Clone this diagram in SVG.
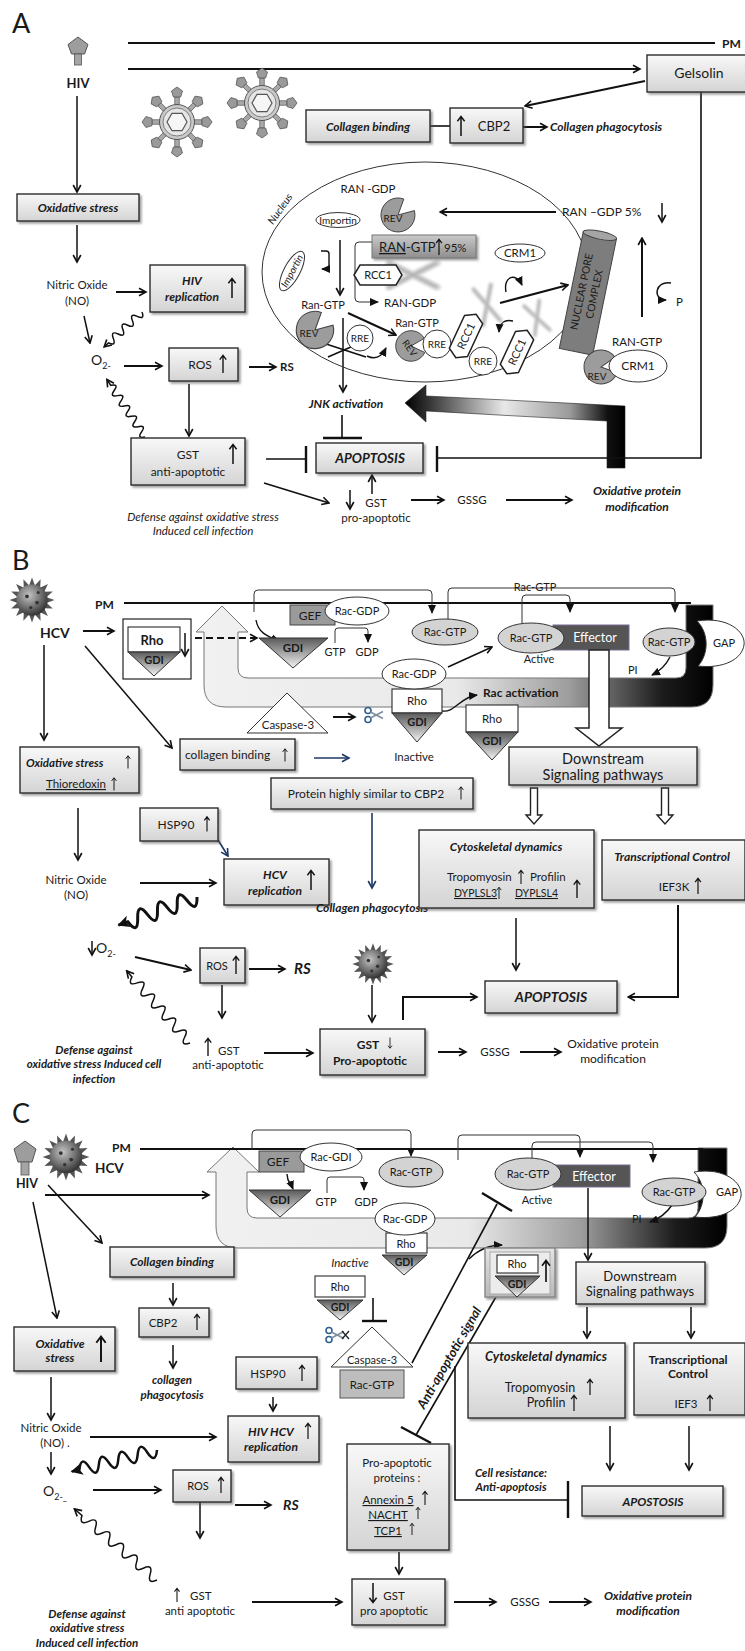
<svg xmlns="http://www.w3.org/2000/svg" width="745" height="1651" viewBox="0 0 745 1651" font-size="12">
<defs>
<style>
text{font-family:Lato,'Liberation Sans',sans-serif;fill:#1a1a1a}
.m{text-anchor:middle}
.b{font-weight:bold}
.i{font-style:italic}
.bi{font-weight:bold;font-style:italic}
.u{text-decoration:underline}
.wt{fill:#fff}
.box{fill:url(#bg);stroke:#2b2b2b;stroke-width:1.4;filter:url(#sh)}
.wb{fill:#fff;stroke:#2b2b2b;stroke-width:1.1}
.ln{fill:none;stroke:#111;stroke-width:1.6}
.ar{fill:none;stroke:#111;stroke-width:1.5;marker-end:url(#ah)}
.ar2{fill:none;stroke:#111;stroke-width:2;marker-end:url(#ah)}
.arf{fill:none;stroke:#111;stroke-width:1.4;marker-end:url(#af)}
.tb{fill:none;stroke:#111;stroke-width:2.4}
.br{fill:none;stroke:#333;stroke-width:1;marker-end:url(#af)}
.blue{fill:none;stroke:#1f3864;stroke-width:1.6;marker-end:url(#abl)}
.gtp{fill:#d3d3d3;stroke:#333;stroke-width:1}
.wel{fill:#fff;stroke:#333;stroke-width:1}
.gdi{fill:url(#gd);stroke:#333;stroke-width:1}
.rev{fill:#9c9c9c;stroke:#444;stroke-width:1}
.hx{fill:#fff;stroke:#222;stroke-width:1.5}
</style>
<filter id="sh" x="-10%" y="-10%" width="125%" height="140%"><feDropShadow dx="2" dy="2" stdDeviation="1" flood-color="#555" flood-opacity="0.55"/></filter>
<filter id="fz" x="-20%" y="-20%" width="140%" height="140%"><feGaussianBlur stdDeviation="0.8"/></filter>
<linearGradient id="bg" x1="0" y1="0" x2="0" y2="1"><stop offset="0" stop-color="#f8f8f8"/><stop offset="1" stop-color="#d4d4d4"/></linearGradient>
<linearGradient id="gd" x1="0" y1="0" x2="0" y2="1"><stop offset="0" stop-color="#5a5a5a"/><stop offset="0.5" stop-color="#a5a5a5"/><stop offset="1" stop-color="#f4f4f4"/></linearGradient>
<linearGradient id="rg" x1="0" y1="0" x2="0" y2="1"><stop offset="0" stop-color="#cacaca"/><stop offset="1" stop-color="#8e8e8e"/></linearGradient>
<linearGradient id="fr" x1="0" y1="0" x2="0" y2="1"><stop offset="0" stop-color="#e4e4e4"/><stop offset="1" stop-color="#b8b8b8"/></linearGradient>
<linearGradient id="jn" gradientUnits="userSpaceOnUse" x1="405" y1="0" x2="625" y2="0"><stop offset="0" stop-color="#000"/><stop offset="0.12" stop-color="#3a3a3a"/><stop offset="0.45" stop-color="#e8e8e8"/><stop offset="0.75" stop-color="#9a9a9a"/><stop offset="0.92" stop-color="#111"/><stop offset="1" stop-color="#000"/></linearGradient>
<linearGradient id="ub" gradientUnits="userSpaceOnUse" x1="200" y1="0" x2="713" y2="0"><stop offset="0" stop-color="#f1f1f1"/><stop offset="0.5" stop-color="#e9e9e9"/><stop offset="0.72" stop-color="#9d9d9d"/><stop offset="0.9" stop-color="#1c1c1c"/><stop offset="1" stop-color="#000"/></linearGradient>
<linearGradient id="uc" gradientUnits="userSpaceOnUse" x1="207" y1="0" x2="727" y2="0"><stop offset="0" stop-color="#f1f1f1"/><stop offset="0.5" stop-color="#e9e9e9"/><stop offset="0.72" stop-color="#9d9d9d"/><stop offset="0.9" stop-color="#1c1c1c"/><stop offset="1" stop-color="#000"/></linearGradient>
<radialGradient id="hg" cx="0.4" cy="0.35" r="0.7"><stop offset="0" stop-color="#c4c4c4"/><stop offset="0.6" stop-color="#6a6a6a"/><stop offset="1" stop-color="#2a2a2a"/></radialGradient>
<marker id="ah" markerWidth="10" markerHeight="10" refX="8.5" refY="5" orient="auto" markerUnits="userSpaceOnUse"><path d="M1.5,1.2 L8.5,5 L1.5,8.8" fill="none" stroke="#111" stroke-width="1.6"/></marker>
<marker id="af" markerWidth="9" markerHeight="9" refX="8" refY="4.5" orient="auto" markerUnits="userSpaceOnUse"><path d="M0,0.5 L9,4.5 L0,8.5 Z" fill="#111"/></marker>
<marker id="abl" markerWidth="10" markerHeight="10" refX="8.5" refY="5" orient="auto" markerUnits="userSpaceOnUse"><path d="M1.5,1.2 L8.5,5 L1.5,8.8" fill="none" stroke="#1f3864" stroke-width="1.6"/></marker>
<marker id="aw" markerWidth="14" markerHeight="14" refX="11" refY="7" orient="auto" markerUnits="userSpaceOnUse"><path d="M0,1 L12,7 L0,13 L3,7 Z" fill="#111"/></marker>
<g id="up"><path d="M0,10 V-9 M-3.6,-4.8 L0,-9.6 L3.6,-4.8" fill="none" stroke="#111" stroke-width="1.5"/></g>
<g id="spk"><rect x="-2.2" y="-25" width="4.4" height="8" fill="#a8a8a8" stroke="#555" stroke-width="0.7"/><polygon points="0,-35 5.5,-31 3.6,-25 -3.6,-25 -5.5,-31" fill="#9a9a9a" stroke="#555" stroke-width="0.8"/></g>
<g id="hivv">
<use href="#spk"/><use href="#spk" transform="rotate(45)"/><use href="#spk" transform="rotate(90)"/><use href="#spk" transform="rotate(135)"/><use href="#spk" transform="rotate(180)"/><use href="#spk" transform="rotate(225)"/><use href="#spk" transform="rotate(270)"/><use href="#spk" transform="rotate(315)"/>
<circle r="17.5" fill="#c9c9c9" stroke="#555" stroke-width="1"/>
<circle r="14" fill="#e6e6e6" stroke="#666" stroke-width="0.8"/>
<polygon points="10,0 5,8.7 -5,8.7 -10,0 -5,-8.7 5,-8.7" fill="#f6f6f6" stroke="#555" stroke-width="1.2"/>
</g>
<path id="hsp" d="M-2.5,-11 L0,-18 L2.5,-11 Z" fill="#555"/>
<g id="hcv">
<use href="#hsp"/><use href="#hsp" transform="rotate(22.5)"/><use href="#hsp" transform="rotate(45)"/><use href="#hsp" transform="rotate(67.5)"/><use href="#hsp" transform="rotate(90)"/><use href="#hsp" transform="rotate(112.5)"/><use href="#hsp" transform="rotate(135)"/><use href="#hsp" transform="rotate(157.5)"/><use href="#hsp" transform="rotate(180)"/><use href="#hsp" transform="rotate(202.5)"/><use href="#hsp" transform="rotate(225)"/><use href="#hsp" transform="rotate(247.5)"/><use href="#hsp" transform="rotate(270)"/><use href="#hsp" transform="rotate(292.5)"/><use href="#hsp" transform="rotate(315)"/><use href="#hsp" transform="rotate(337.5)"/>
<circle r="12.5" fill="url(#hg)"/>
<circle cx="-4" cy="-3" r="1.5" fill="#333"/><circle cx="4" cy="2" r="1.5" fill="#333"/><circle cx="-1" cy="6" r="1.3" fill="#333"/><circle cx="5" cy="-6" r="1.2" fill="#333"/>
</g>
<path id="pac" d="M0,0 L16.4,-4.4 A17,17 0 1 1 5.8,-16 Z"/>
<polygon id="hex" points="-24,0 -18,-10 18,-10 24,0 18,10 -18,10"/>
<g id="chr" fill="none" stroke-linecap="round" filter="url(#fz)"><path d="M-14,-8 L14,8 M-14,8 L14,-8" stroke="#d2d2d2" stroke-width="4.5"/><path d="M-14,-8 L14,8 M-14,8 L14,-8" stroke="#aaa" stroke-width="1.5" stroke-dasharray="1.5,1.5"/></g>
<g id="sci" fill="none" stroke-width="1.6"><circle cx="-6" cy="-4.5" r="3" stroke="#2f5f8f"/><circle cx="-6" cy="4.5" r="3" stroke="#2f5f8f"/><path d="M-3.6,-3 L9,3.5 M-3.6,3 L9,-3.5" stroke="#7f8fa0"/></g>
</defs>
<rect width="745" height="1651" fill="#fff"/>

<!-- ================= PANEL A ================= -->
<g id="panelA">
<text x="12" y="33" font-size="27">A</text>
<path id="A-bigarrow" d="M405,403 L426,385 L426,396 L625,406 L625,468 L607,468 L607,421 L426,411 L426,422 Z" fill="url(#jn)" stroke="#222" stroke-width="0.6"/>
<g id="A-connectors">
<path class="ar2" d="M128,69 H640"/>
<path class="ar2" d="M645,81 L525,106"/>
<path class="ln" d="M430,126 H450"/>
<path class="ar2" d="M523,127 H547"/>
<path class="ln" d="M701,92 V458 H438"/>
<path class="tb" d="M437,446 V472"/>
<path class="ar" d="M77,96 V192"/>
<path class="ar" d="M77,225 V262"/>
<path class="ar2" d="M116,292 H146"/>
<path class="ar" d="M84,316 L90,343"/>
<path class="ar" d="M0,0 q3.25,-8 6.5,0 t6.5,0 t6.5,0 t6.5,0 t6.5,0 t6.5,0 t6.5,0 l6,0" transform="translate(142 312) rotate(137.3)"/>
<path class="ar2" d="M124,366 H162"/>
<path class="ar2" d="M249,367 H276"/>
<path class="ar" d="M189,384 V436"/>
<path class="ar" d="M0,0 q3.1,-8 6.2,0 t6.2,0 t6.2,0 t6.2,0 t6.2,0 t6.2,0 t6.2,0 t6.2,0 t6.2,0 t6.2,0 l7,0" transform="translate(145 437) rotate(-123.5)"/>
<path class="ln" stroke-width="2" d="M266,459 H305"/>
<path class="tb" d="M306,446 V473"/>
<path class="ln" stroke-width="2" d="M342,415 V438"/>
<path class="tb" d="M323,438 H362"/>
<path class="ar" d="M343,318 V392"/>
<path class="ar" d="M264,483 L329,503"/>
<path class="ar" d="M350,490 V509"/>
<path class="ar" d="M372,494 V475"/>
<path class="ar2" d="M411,500 H444"/>
<path class="ar2" d="M506,500 H572"/>
<path class="ar" d="M662,203 V222"/>
<path class="ar2" d="M556,212 H440"/>
<path class="ar2" d="M642,317 V238"/>
<path class="arf" d="M321,251 h5 q3,0 3,3 v12 q0,3 -3,3 h-4"/>
<path class="ar" d="M340,240 V295"/>
<path class="br" d="M377,242 H359 q-4,0 -4,4 V298 q0,4 4,4 H378"/>
<path class="arf" d="M506,292 C503,276 516,272 522,285"/>
<path class="ar2" d="M500,303 L568,285"/>
<path class="ar2" d="M348,313 L396,335"/>
<path class="ln" d="M323,343 L366,357 M328,357 L360,343"/>
<path class="arf" d="M367,356 q12,6 19,-8"/>
<path class="arf" d="M513,321 q-13,-3 -14,11"/>
<path class="arf" d="M671,283 C655,280 652,300 666,300"/>
</g>
<g id="A-hiv"><polygon points="78,37 88,44.5 84.5,54 71.5,54 68,44.5" fill="#9d9d9d" stroke="#555"/><rect x="74.5" y="54" width="7" height="11" fill="#a5a5a5" stroke="#555" stroke-width="0.8"/><text x="78" y="88" class="m b" font-size="13">HIV</text></g>
<g id="A-pm"><path d="M128,43 H715" stroke="#111" stroke-width="2"/><text x="722" y="48" class="b">PM</text></g>
<g id="A-virions"><use href="#hivv" transform="translate(177 122)"/><use href="#hivv" transform="translate(262 103)"/></g>
<g id="A-gelsolin"><rect class="box" x="647" y="55" width="110" height="37"/><text x="699" y="78" class="m" font-size="14">Gelsolin</text></g>
<g id="A-collagen"><rect class="box" x="306" y="110" width="124" height="32"/><text x="368" y="130.5" class="m bi">Collagen binding</text></g>
<g id="A-cbp2"><rect class="box" x="450" y="108" width="73" height="35"/><use href="#up" transform="translate(461 126)"/><text x="494" y="130.5" class="m" font-size="13">CBP2</text></g>
<g id="A-colphago"><text x="550" y="131" class="bi">Collagen phagocytosis</text></g>
<g id="A-oxstress"><rect class="box" x="17" y="194" width="122" height="27"/><text x="78" y="212" class="m bi">Oxidative stress</text></g>
<g id="A-no"><text x="77" y="289" class="m" font-size="11.5">Nitric Oxide</text><text x="77" y="305" class="m" font-size="11.5">(NO)</text></g>
<g id="A-hivrep"><rect class="box" x="150" y="265" width="95" height="47"/><text x="192" y="285" class="m bi">HIV</text><text x="192" y="301" class="m bi">replication</text><use href="#up" transform="translate(232 288)"/></g>
<g id="A-o2"><text x="91" y="365" font-size="14">O<tspan font-size="9" dy="4">2-</tspan></text></g>
<g id="A-ros"><rect class="box" x="169" y="348" width="69" height="33"/><text x="200" y="369" class="m">ROS</text><use href="#up" transform="translate(223 364) scale(0.9)"/></g>
<g id="A-rs"><text x="280" y="371" class="b" font-size="11.5">RS</text></g>
<g id="A-gstanti"><rect class="box" x="131" y="438" width="114" height="47"/><text x="188" y="459" class="m">GST</text><text x="188" y="476" class="m">anti-apoptotic</text><use href="#up" transform="translate(233 454)"/></g>
<g id="A-apoptosis"><rect class="box" x="316" y="443" width="107" height="30"/><text x="370" y="463" class="m bi" font-size="13.5">APOPTOSIS</text></g>
<g id="A-jnk"><text x="346" y="408" class="m bi">JNK activation</text></g>
<g id="A-gstpro"><text x="376" y="507" class="m" font-size="11.5">GST</text><text x="376" y="522" class="m" font-size="11.5">pro-apoptotic</text></g>
<g id="A-gssg"><text x="472" y="504" class="m" font-size="11.5">GSSG</text></g>
<g id="A-oxprot"><text x="637" y="495" class="m bi">Oxidative protein</text><text x="637" y="511" class="m bi">modification</text></g>
<g id="A-defense"><text x="203" y="521" class="m i" font-size="11.5">Defense against oxidative stress</text><text x="203" y="535" class="m i" font-size="11.5">Induced cell infection</text></g>

<g id="A-nucleus">
<ellipse cx="425" cy="272" rx="163" ry="110" fill="none" stroke="#333" stroke-width="1"/>
<text transform="translate(283 211) rotate(-55)" class="m i" font-size="10.5">Nucleus</text>
</g>
<g id="A-chromosomes"><use href="#chr" transform="translate(413 275) scale(1.7 1.5)"/><use href="#chr" transform="translate(487 305) rotate(75) scale(1.3 1.1)"/><use href="#chr" transform="translate(537 318) rotate(70) scale(1.1 1)"/></g>
<g id="A-rangdp-label"><text x="368" y="193" class="m" font-size="11.5">RAN -GDP</text></g>
<g id="A-importin1"><ellipse class="wel" cx="338" cy="220" rx="22" ry="7.5"/><text x="338" y="224" class="m" font-size="10">Importin</text></g>
<g id="A-rev1"><use href="#pac" class="rev" transform="translate(398 215)"/><text x="393" y="222" class="m" font-size="10">REV</text></g>
<g id="A-rangdp5"><text x="562" y="216">RAN –GDP 5%</text></g>
<g id="A-rangtp95"><rect x="372" y="235" width="104" height="23" fill="url(#rg)" stroke="#777" filter="url(#sh)"/><text x="379" y="252" font-size="13"><tspan class="u">RAN</tspan>-GTP</text><use href="#up" transform="translate(439 247) scale(0.8)"/><text x="444" y="252" font-size="11.5">95%</text></g>
<g id="A-importin2"><g transform="translate(292 271) rotate(-62)"><ellipse class="wel" rx="22" ry="8"/><text y="3.5" class="m i" font-size="10">Importin</text></g></g>
<g id="A-rcc1a"><use href="#hex" class="hx" transform="translate(378 275)"/><text x="378" y="279" class="m" font-size="11">RCC1</text></g>
<g id="A-crm1a"><ellipse class="wel" cx="520" cy="253" rx="25" ry="9"/><text x="520" y="257" class="m" font-size="11.5">CRM1</text></g>
<g id="A-rangdp2"><text x="384" y="307" font-size="11.5">RAN-GDP</text></g>
<g id="A-rangtp1"><text x="323" y="309" class="m" font-size="11">Ran-GTP</text></g>
<g id="A-rev2"><use href="#pac" class="rev" transform="translate(315 330) scale(1.1)"/><text x="309" y="337" class="m" font-size="10">REV</text></g>
<g id="A-rre1"><circle class="wel" cx="360" cy="338" r="13"/><text x="360" y="342" class="m" font-size="10">RRE</text></g>
<g id="A-rangtp2"><text x="417" y="327" class="m" font-size="11">Ran-GTP</text></g>
<g id="A-rev3"><use href="#pac" class="rev" transform="translate(411 346) rotate(40) scale(0.9)"/><text transform="translate(407 350) rotate(55)" class="m" font-size="9.5">REV</text></g>
<g id="A-rre2"><circle class="wel" cx="437" cy="344" r="14"/><text x="437" y="348" class="m" font-size="10">RRE</text></g>
<g id="A-rcc1b"><g transform="translate(466 336) rotate(-65)"><use href="#hex" class="hx"/><text y="4" class="m" font-size="11">RCC1</text></g></g>
<g id="A-rre3"><circle class="wel" cx="483" cy="361" r="14"/><text x="483" y="365" class="m" font-size="10">RRE</text></g>
<g id="A-rcc1c"><g transform="translate(517 352) rotate(-65)"><use href="#hex" class="hx"/><text y="4" class="m" font-size="11">RCC1</text></g></g>
<g id="A-npc" transform="rotate(11.6 588 293)"><rect x="571" y="234" width="34" height="119" fill="#7d7d7d" stroke="#444"/><ellipse cx="588" cy="234" rx="17" ry="4" fill="#a5a5a5" stroke="#444"/><text transform="translate(585 293) rotate(-90)" class="m" font-size="10.5">NUCLEAR PORE</text><text transform="translate(598 293) rotate(-90)" class="m" font-size="10.5">COMPLEX</text></g>
<g id="A-rangtp3"><text x="637" y="346" class="m" font-size="11.5">RAN-GTP</text></g>
<g id="A-rev4"><use href="#pac" class="rev" transform="translate(601 367) rotate(35)"/><text x="597" y="380" class="m" font-size="10">REV</text></g>
<g id="A-crm1b"><ellipse class="wel" cx="638" cy="366" rx="29" ry="16"/><text x="638" y="370" class="m">CRM1</text></g>
<g id="A-p"><text x="676" y="306" font-size="11.5">P</text></g>
</g>

<!-- ================= PANEL B ================= -->
<g id="panelB">
<text x="12" y="570" font-size="27">B</text>
<path id="B-uarrow" d="M222,606 L248,632 L238,632 L238,668 Q238,678 248,678 L676,678 Q686,678 686,668 L686,605 L713,605 L713,685 Q713,707 691,707 L226,707 Q204,707 204,685 L204,632 L196,632 Z" fill="url(#ub)" stroke="#777"/>
<g id="B-pm"><path d="M124,603 H691" stroke="#111" stroke-width="2"/><text x="95" y="609" class="b">PM</text></g>
<g id="B-connectors">
<path class="ar2" d="M83,631 H114"/>
<path class="ar2" stroke-dasharray="7,4" d="M195,638 H257"/>
<path class="ar" d="M44,645 V740"/>
<path class="ar" d="M85,646 L172,748"/>
<path class="br" d="M254,612 V594 q0,-4 4,-4 H428 q4,0 4,4 V613"/>
<path class="arf" stroke-width="2" d="M256,620 C258,632 266,636 279,641"/>
<path class="br" d="M335,643 V631 q0,-3 3,-3 H365 q3,0 3,3 V642"/>
<path class="br" d="M448,619 V592 q0,-4 4,-4 H671 q4,0 4,4 V612"/>
<path class="br" d="M522,623 V599 q0,-4 4,-4 H566 q4,0 4,4 V612"/>
<path class="ar" stroke-width="1" d="M448,667 L492,647"/>
<path class="arf" d="M670,657 Q664,669 652,675"/>
<path class="arf" stroke-width="1.8" d="M442,711 C455,713 460,697 477,695"/>
<path class="ar2" d="M333,717 H355"/>
<path class="blue" d="M314,758 H349"/>
<path d="M530.5,788 H537.5 V815 H542 L534,824 L526,815 H530.5 Z" fill="#fff" stroke="#222" stroke-width="1.4"/>
<path d="M661.5,788 H668.5 V815 H673 L665,824 L657,815 H661.5 Z" fill="#fff" stroke="#222" stroke-width="1.4"/>
<path class="ar" d="M78,808 V860"/>
<path class="blue" d="M218,840 L228,856"/>
<path class="ar2" d="M140,883 H216"/>
<path class="blue" d="M372,813 V888"/>
<path fill="none" stroke="#111" stroke-width="3" marker-end="url(#aw)" d="M0,0 q5.25,-16 10.5,0 t10.5,0 t10.5,0 t10.5,0 t10.5,0 t10.5,0 t10.5,0 l10,0" transform="translate(197 897) rotate(160.3)"/>
<path class="ar" d="M92,941 V955"/>
<path class="ar2" d="M135,957 L191,970"/>
<path class="ar2" d="M249,969 H285"/>
<path class="ar" d="M222,985 V1018"/>
<path class="ar" stroke-width="1.8" d="M0,0 q4,-10 8,0 t8,0 t8,0 t8,0 t8,0 t8,0 t8,0 t8,0 t8,0 t8,0 t8,0 l8,0" transform="translate(190 1043) rotate(-131.3)"/>
<path class="ar" d="M372,985 V1022"/>
<path class="ar" d="M516,918 V970"/>
<path class="ar2" d="M678,905 V997 H628"/>
<path class="ar2" d="M403,1020 V997 H477"/>
<path class="ar2" d="M264,1053 H313"/>
<path class="ar2" d="M438,1052 H466"/>
<path class="ar2" d="M520,1052 H561"/>
</g>
<g id="B-hcv"><use href="#hcv" transform="translate(32 600) scale(1.25)"/><text x="40" y="638" class="b" font-size="14">HCV</text></g>
<g id="B-rhobox"><rect x="123" y="619" width="68" height="60" fill="#fff" stroke="#222" stroke-width="1.2"/><rect class="wb" x="128" y="627" width="52" height="25"/><text x="152" y="645" class="m b" font-size="13">Rho</text><polygon class="gdi" points="128,652 180,652 154,676"/><text x="154" y="664" class="m b" font-size="11">GDI</text><path class="ar" stroke-width="1.2" d="M185,633 V656"/></g>
<g id="B-gef"><rect x="290" y="605" width="45" height="20" fill="#9a9a9a" stroke="#444"/><text x="310" y="619.5" class="m">GEF</text></g>
<g id="B-racgdp1"><ellipse class="wel" cx="357" cy="611" rx="32" ry="14"/><text x="357" y="615" class="m" font-size="11">Rac-GDP</text></g>
<g id="B-gdi1"><polygon class="gdi" points="259,638 328,638 293,668"/><text x="293" y="652" class="m b" font-size="11.5">GDI</text></g>
<g id="B-gtpgdp"><text x="335" y="656" class="m" font-size="11">GTP</text><text x="367" y="656" class="m" font-size="11">GDP</text></g>
<g id="B-racgtp1"><ellipse class="gtp" cx="445" cy="632" rx="33" ry="13"/><text x="445" y="636" class="m" font-size="11">Rac-GTP</text></g>
<g id="B-racgtp-label"><text x="535" y="591" class="m" font-size="11">Rac-GTP</text></g>
<g id="B-effector"><rect x="553" y="625" width="76" height="25" fill="#555" stroke="#7b6b94"/><text x="595" y="642" class="m wt" font-size="12.5">Effector</text><ellipse class="gtp" cx="531" cy="638" rx="33" ry="15"/><text x="531" y="642" class="m" font-size="11">Rac-GTP</text><text x="539" y="663" class="m" font-size="11">Active</text></g>
<g id="B-racgtp3"><ellipse class="gtp" cx="669" cy="642" rx="26" ry="14"/><text x="669" y="646" class="m" font-size="11">Rac-GTP</text></g>
<g id="B-gap"><path d="M697,621 C728,616 746,632 744,645 C742,659 724,669 698,666 C709,654 709,633 697,621 Z" fill="#fff" stroke="#333"/><text x="724" y="647" class="m" font-size="11">GAP</text></g>
<g id="B-pi"><text x="628" y="674" font-size="11">PI</text></g>
<g id="B-racgdp2"><rect class="wb" x="392" y="689" width="50" height="24"/><text x="417" y="705" class="m" font-size="11.5">Rho</text><polygon class="gdi" points="392,713 442,713 417,742"/><text x="417" y="726" class="m b" font-size="11">GDI</text><ellipse class="wel" cx="414" cy="674" rx="32" ry="15"/><text x="414" y="678" class="m" font-size="11">Rac-GDP</text></g>
<g id="B-racact"><text x="483" y="697" class="b">Rac activation</text></g>
<g id="B-rhogdi2"><rect class="wb" x="466" y="705" width="52" height="27"/><text x="492" y="723" class="m" font-size="11.5">Rho</text><polygon class="gdi" points="466,732 518,732 492,760"/><text x="492" y="745" class="m b" font-size="11">GDI</text></g>
<path id="B-bigdown" d="M589,650 H609 V728 H622 L599,746 L576,728 H589 Z" fill="#fff" stroke="#222" stroke-width="1.5"/>
<g id="B-caspase"><polygon points="287,693 328,733 247,733" fill="#fff" stroke="#333"/><text x="288" y="729" class="m" font-size="11.5">Caspase-3</text></g>
<g id="B-scissors"><use href="#sci" transform="translate(374 715)"/></g>
<g id="B-inactive"><text x="414" y="761" class="m" font-size="11.5">Inactive</text></g>
<g id="B-collagen"><rect class="box" x="180" y="739" width="115" height="31"/><text x="185" y="759">collagen binding</text><use href="#up" transform="translate(285 755) scale(0.65)"/></g>
<g id="B-oxstress"><rect class="box" x="20" y="747" width="119" height="46"/><text x="26" y="767" class="bi" font-size="11.5">Oxidative stress</text><use href="#up" transform="translate(128 762) scale(0.65)"/><text x="76" y="788" class="m u" font-size="11.5">Thioredoxin</text><use href="#up" transform="translate(114 784) scale(0.65)"/></g>
<g id="B-downstream"><rect class="box" x="509" y="747" width="188" height="38"/><text x="603" y="764" class="m" font-size="14.5">Downstream</text><text x="603" y="780" class="m" font-size="14.5">Signaling pathways</text></g>
<g id="B-cbp2like"><rect class="box" x="271" y="778" width="202" height="31"/><text x="366" y="798" class="m">Protein highly similar to CBP2</text><use href="#up" transform="translate(461 793) scale(0.65)"/></g>
<g id="B-hsp90"><rect class="box" x="140" y="808" width="78" height="33"/><text x="176" y="829" class="m">HSP90</text><use href="#up" transform="translate(207 824) scale(0.75)"/></g>
<g id="B-hcvrep"><rect class="box" x="224" y="859" width="105" height="46"/><text x="275" y="879" class="m bi">HCV</text><text x="275" y="895" class="m bi">replication</text><use href="#up" transform="translate(311 880)"/></g>
<g id="B-no"><text x="76" y="884" class="m" font-size="11.5">Nitric Oxide</text><text x="76" y="899" class="m" font-size="11.5">(NO)</text></g>
<g id="B-colphago"><text x="372" y="912" class="m bi">Collagen phagocytosis</text></g>
<g id="B-o2"><text x="96" y="953" font-size="14">O<tspan font-size="9" dy="4">2-</tspan></text></g>
<g id="B-ros"><rect class="box" x="200" y="948" width="45" height="35"/><text x="217" y="970" class="m" font-size="11">ROS</text><use href="#up" transform="translate(236 965) scale(0.9)"/></g>
<g id="B-rs"><text x="294" y="974" class="bi" font-size="15">RS</text></g>
<g id="B-hcv2"><use href="#hcv" transform="translate(373 964) scale(1.15)"/></g>
<g id="B-cyto"><rect class="box" x="419" y="830" width="175" height="78"/><text x="506" y="851" class="m bi">Cytoskeletal dynamics</text><text x="447" y="881" font-size="11.5">Tropomyosin</text><use href="#up" transform="translate(521 877) scale(0.7)"/><text x="530" y="881" font-size="11.5">Profilin</text><text x="454" y="897" class="u" font-size="10.5">DYPLSL3</text><use href="#up" transform="translate(499 893) scale(0.6)"/><text x="515" y="897" class="u" font-size="10.5">DYPLSL4</text><use href="#up" transform="translate(577 889) scale(0.9)"/></g>
<g id="B-trans"><rect class="box" x="602" y="840" width="143" height="60"/><text x="672" y="861" class="m bi">Transcriptional Control</text><text x="674" y="891" class="m" font-size="11.5">IEF3K</text><use href="#up" transform="translate(698 886) scale(0.8)"/></g>
<g id="B-apoptosis"><rect class="box" x="485" y="981" width="132" height="32"/><text x="551" y="1002" class="m bi" font-size="14">APOPTOSIS</text></g>
<g id="B-gstpro"><rect class="box" x="320" y="1029" width="105" height="46"/><text x="368" y="1049" class="m b">GST</text><use href="#up" transform="translate(390 1043) rotate(180) scale(0.55)"/><text x="370" y="1065" class="m b">Pro-apoptotic</text></g>
<g id="B-gstanti"><use href="#up" transform="translate(208 1047) scale(0.9)"/><text x="218" y="1055" font-size="11.5">GST</text><text x="228" y="1069" class="m" font-size="11.5">anti-apoptotic</text></g>
<g id="B-gssg"><text x="495" y="1056" class="m" font-size="11.5">GSSG</text></g>
<g id="B-oxprot"><text x="613" y="1048" class="m">Oxidative protein</text><text x="613" y="1063" class="m">modification</text></g>
<g id="B-defense"><text x="94" y="1054" class="m bi" font-size="11.5">Defense against</text><text x="94" y="1068" class="m bi" font-size="11.5">oxidative stress Induced cell</text><text x="94" y="1083" class="m bi" font-size="11.5">infection</text></g>
</g>

<!-- ================= PANEL C ================= -->
<g id="panelC">
<text x="12" y="1123" font-size="27">C</text>
<path id="C-uarrow" d="M233,1147 L259,1172 L247,1172 L247,1208 Q247,1218 257,1218 L688,1218 Q698,1218 698,1208 L698,1148 L727,1148 L727,1226 Q727,1248 705,1248 L238,1248 Q216,1248 216,1226 L216,1172 L207,1172 Z" fill="url(#uc)" stroke="#777"/>
<g id="C-pm"><path d="M140,1149 H703" stroke="#111" stroke-width="2"/><text x="112" y="1152" class="b">PM</text></g>
<g id="C-connectors">
<path class="ar2" d="M45,1195 H209"/>
<path class="ar" d="M48,1185 L102,1243"/>
<path class="ar" d="M33,1202 L57,1318"/>
<path class="br" d="M252,1150 V1134 q0,-4 4,-4 H407 q4,0 4,4 V1156"/>
<path class="arf" stroke-width="2" d="M287,1174 C287,1182 291,1184 293,1189"/>
<path class="br" d="M327,1193 V1180 q0,-3 3,-3 H361 q3,0 3,3 V1190"/>
<path class="br" d="M458,1160 V1139 q0,-4 4,-4 H576 q4,0 4,4 V1157"/>
<path class="br" d="M532,1158 V1146 q0,-4 4,-4 H649 q4,0 4,4 V1162"/>
<path class="arf" d="M672,1205 Q664,1217 650,1222"/>
<path class="ar" d="M588,1188 V1260"/>
<path class="ln" d="M412,1363 L497,1204"/>
<path class="tb" d="M482,1193 L512,1211"/>
<path class="arf" stroke-width="1.6" d="M469,1259 C478,1250 490,1245 502,1245"/>
<path class="ln" d="M373,1298 V1320"/>
<path class="tb" d="M362,1321 H387"/>
<path class="ln" d="M504,1283 L416,1435"/>
<path class="tb" d="M401,1427 L431,1443"/>
<path class="ln" d="M455,1366 V1500 H567"/>
<path class="tb" d="M568,1481 V1518"/>
<path class="ar" d="M587,1307 V1338"/>
<path class="ar" d="M691,1307 V1338"/>
<path class="ar" d="M610,1426 V1470"/>
<path class="ar" d="M689,1426 V1470"/>
<path class="ar" d="M173,1283 V1305"/>
<path class="ar" d="M173,1345 V1368"/>
<path class="ar" d="M51,1377 V1420"/>
<path class="ar2" d="M90,1437 H216"/>
<path class="ar" d="M273,1397 V1411"/>
<path class="ar" d="M51,1452 V1474"/>
<path fill="none" stroke="#111" stroke-width="2.5" marker-end="url(#aw)" d="M0,0 q5,-14 10,0 t10,0 t10,0 t10,0 t10,0 t10,0 t10,0 t10,0 l8,0" transform="translate(157 1450) rotate(165.8)"/>
<path class="ar2" d="M93,1490 H161"/>
<path class="ar2" d="M235,1505 H271"/>
<path class="ar" d="M200,1502 V1538"/>
<path class="ar" stroke-width="1.8" d="M0,0 q4.5,-10 9,0 t9,0 t9,0 t9,0 t9,0 t9,0 t9,0 t9,0 t9,0 t9,0 t9,0 l10,0" transform="translate(157 1580) rotate(-139.3)"/>
<path class="ar2" d="M252,1602 H342"/>
<path class="ar" d="M399,1552 V1574"/>
<path class="ar2" d="M454,1602 H496"/>
<path class="ar2" d="M549,1602 H591"/>
</g>
<g id="C-hiv"><polygon points="25,1141 36,1149 32,1162 18,1162 14,1149" fill="#9d9d9d" stroke="#555"/><rect x="21" y="1162" width="8" height="13" fill="#a5a5a5" stroke="#555" stroke-width="0.8"/><text x="27" y="1188" class="m b" font-size="12.5">HIV</text></g>
<g id="C-hcv"><use href="#hcv" transform="translate(66 1157) scale(1.3)"/><text x="95" y="1173" class="b" font-size="13.5">HCV</text></g>
<g id="C-gef"><rect x="259" y="1151" width="45" height="21" fill="#9a9a9a" stroke="#444"/><text x="278" y="1166" class="m">GEF</text></g>
<g id="C-racgdi"><ellipse class="wel" cx="331" cy="1157" rx="31" ry="14"/><text x="331" y="1161" class="m" font-size="11">Rac-GDI</text></g>
<g id="C-gdi1"><polygon class="gdi" points="249,1190 311,1190 280,1217"/><text x="280" y="1204" class="m b" font-size="11.5">GDI</text></g>
<g id="C-gtpgdp"><text x="326" y="1206" class="m" font-size="11">GTP</text><text x="366" y="1206" class="m" font-size="11">GDP</text></g>
<g id="C-racgtp1"><ellipse class="gtp" cx="411" cy="1172" rx="32" ry="15"/><text x="411" y="1176" class="m" font-size="11">Rac-GTP</text></g>
<g id="C-racgdp"><rect class="wb" x="386" y="1233" width="41" height="20"/><text x="406" y="1248" class="m" font-size="11">Rho</text><polygon class="gdi" points="382,1255 427,1255 404,1275"/><text x="404" y="1266" class="m b" font-size="10.5">GDI</text><ellipse class="wel" cx="405" cy="1219" rx="30" ry="16"/><text x="405" y="1223" class="m" font-size="11">Rac-GDP</text></g>
<g id="C-inactive"><text x="350" y="1267" class="m i" font-size="11.5">Inactive</text></g>
<g id="C-rhogdi"><rect class="wb" x="315" y="1276" width="50" height="21"/><text x="340" y="1291" class="m" font-size="11">Rho</text><polygon class="gdi" points="317,1300 363,1300 340,1320"/><text x="340" y="1311" class="m b" font-size="10.5">GDI</text></g>
<g id="C-scissors"><use href="#sci" transform="translate(335 1335)"/><path d="M342,1331 L349,1339 M349,1331 L342,1339" stroke="#222" stroke-width="1.3"/></g>
<g id="C-caspase"><polygon points="372,1327 413,1367 331,1367" fill="#fff" stroke="#333"/><text x="372" y="1364" class="m" font-size="11">Caspase-3</text><rect x="340" y="1370" width="64" height="28" fill="#bdbdbd" stroke="#555"/><text x="372" y="1389" class="m" font-size="11.5">Rac-GTP</text></g>
<g id="C-effector"><rect x="553" y="1165" width="77" height="22" fill="#555" stroke="#7b6b94"/><text x="594" y="1181" class="m wt" font-size="12.5">Effector</text><ellipse class="gtp" cx="528" cy="1174" rx="33" ry="16"/><text x="528" y="1178" class="m" font-size="11">Rac-GTP</text><text x="537" y="1204" class="m" font-size="11">Active</text></g>
<g id="C-gap"><path transform="translate(-3 551)" d="M697,621 C728,616 746,632 744,645 C742,659 724,669 698,666 C709,654 709,633 697,621 Z" fill="#fff" stroke="#333"/><text x="727" y="1196" class="m" font-size="11">GAP</text></g>
<g id="C-racgtp3"><ellipse class="gtp" cx="674" cy="1192" rx="32" ry="14"/><text x="674" y="1196" class="m" font-size="11">Rac-GTP</text></g>
<g id="C-pi"><text x="632" y="1223" font-size="11">PI</text></g>
<g id="C-rhoframe"><rect x="485" y="1248" width="70" height="49" fill="url(#fr)" stroke="#8a8a8a" stroke-width="1.5" filter="url(#sh)"/><rect x="490" y="1252" width="60" height="42" fill="#ececec" stroke="#aaa"/><rect class="wb" x="497" y="1255" width="41" height="18"/><text x="517" y="1268" class="m" font-size="11">Rho</text><polygon class="gdi" points="495,1276 540,1276 517,1297"/><text x="517" y="1288" class="m b" font-size="10.5">GDI</text><use href="#up" transform="translate(546 1271) scale(1.1)"/></g>
<g id="C-antisignal"><text transform="translate(453 1360) rotate(-60)" class="m bi" font-size="13">Anti-apoptotic signal</text></g>
<g id="C-downstream"><rect class="box" x="576" y="1262" width="129" height="42"/><text x="640" y="1281" class="m" font-size="13">Downstream</text><text x="640" y="1296" class="m" font-size="13">Signaling pathways</text></g>
<g id="C-cyto"><rect class="box" x="468" y="1343" width="157" height="75"/><text x="546" y="1361" class="m bi" font-size="13">Cytoskeletal dynamics</text><text x="540" y="1392" class="m" font-size="12.5">Tropomyosin</text><use href="#up" transform="translate(590 1387) scale(0.8)"/><text x="546" y="1407" class="m" font-size="12.5">Profilin</text><use href="#up" transform="translate(574 1403) scale(0.8)"/></g>
<g id="C-trans"><rect class="box" x="634" y="1343" width="111" height="72"/><text x="688" y="1364" class="m b">Transcriptional</text><text x="688" y="1378" class="m b">Control</text><text x="686" y="1408" class="m" font-size="11.5">IEF3</text><use href="#up" transform="translate(710 1403) scale(0.8)"/></g>
<g id="C-apostosis"><rect class="box" x="582" y="1486" width="141" height="30"/><text x="653" y="1506" class="m bi">APOSTOSIS</text></g>
<g id="C-cellres"><text x="511" y="1477" class="m bi" font-size="11.5">Cell resistance:</text><text x="511" y="1491" class="m bi" font-size="11.5">Anti-apoptosis</text></g>
<g id="C-proapo"><rect class="box" x="347" y="1444" width="102" height="106"/><text x="397" y="1467" class="m" font-size="11.5">Pro-apoptotic</text><text x="397" y="1482" class="m" font-size="11.5">proteins :</text><text x="388" y="1504" class="m u" font-size="11.5">Annexin 5</text><use href="#up" transform="translate(425 1498) scale(0.7)"/><text x="388" y="1519" class="m u" font-size="11.5">NACHT</text><use href="#up" transform="translate(418 1513) scale(0.6)"/><text x="388" y="1535" class="m u" font-size="11.5">TCP1</text><use href="#up" transform="translate(412 1529) scale(0.6)"/></g>
<g id="C-collagen"><rect class="box" x="110" y="1247" width="124" height="30"/><text x="172" y="1266" class="m bi">Collagen binding</text></g>
<g id="C-cbp2"><rect class="box" x="139" y="1308" width="70" height="29"/><text x="163" y="1327" class="m" font-size="11.5">CBP2</text><use href="#up" transform="translate(197 1322) scale(0.8)"/></g>
<g id="C-colphago"><text x="172" y="1384" class="m bi" font-size="11.5">collagen</text><text x="172" y="1399" class="m bi" font-size="11.5">phagocytosis</text></g>
<g id="C-oxstress"><rect class="box" x="14" y="1327" width="101" height="44"/><text x="60" y="1348" class="m bi">Oxidative</text><text x="60" y="1362" class="m bi">stress</text><use href="#up" transform="translate(101 1349) scale(1.3)"/></g>
<g id="C-no"><text x="51" y="1432" class="m" font-size="11.5">Nitric Oxide</text><text x="55" y="1447" class="m" font-size="11.5">(NO) .</text></g>
<g id="C-hsp90"><rect class="box" x="236" y="1357" width="81" height="32"/><text x="268" y="1378" class="m" font-size="11.5">HSP90</text><use href="#up" transform="translate(302 1373) scale(0.8)"/></g>
<g id="C-rep"><rect class="box" x="228" y="1416" width="91" height="46"/><text x="271" y="1436" class="m bi">HIV HCV</text><text x="271" y="1451" class="m bi">replication</text><use href="#up" transform="translate(308 1431) scale(0.8)"/></g>
<g id="C-o2"><text x="43" y="1496" font-size="14">O<tspan font-size="9" dy="4">2-_</tspan></text></g>
<g id="C-ros"><rect class="box" x="173" y="1470" width="58" height="32"/><text x="198" y="1490" class="m" font-size="11">ROS</text><use href="#up" transform="translate(221 1485) scale(0.8)"/></g>
<g id="C-rs"><text x="283" y="1510" class="bi" font-size="14">RS</text></g>
<g id="C-gstanti"><use href="#up" transform="translate(177 1595) scale(0.7)"/><text x="190" y="1600" font-size="11.5">GST</text><text x="200" y="1615" class="m" font-size="11.5">anti apoptotic</text></g>
<g id="C-gstpro"><rect class="box" x="352" y="1579" width="93" height="46"/><use href="#up" transform="translate(373 1593) rotate(180)"/><text x="394" y="1600" class="m" font-size="11.5">GST</text><text x="394" y="1615" class="m" font-size="11.5">pro apoptotic</text></g>
<g id="C-gssg"><text x="525" y="1606" class="m" font-size="11.5">GSSG</text></g>
<g id="C-oxprot"><text x="648" y="1600" class="m bi">Oxidative protein</text><text x="648" y="1615" class="m bi">modification</text></g>
<g id="C-defense"><text x="87" y="1618" class="m bi" font-size="11.5">Defense against</text><text x="87" y="1632" class="m bi" font-size="11.5">oxidative stress</text><text x="87" y="1647" class="m bi" font-size="11.5">Induced cell infection</text></g>
</g>
</svg>
